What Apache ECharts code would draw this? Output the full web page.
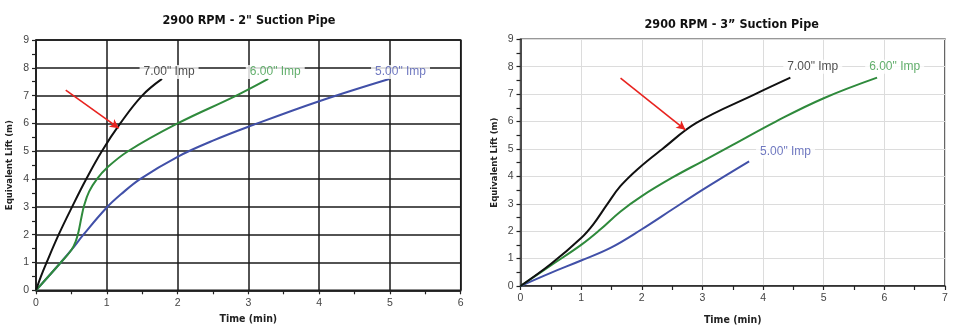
<!DOCTYPE html>
<html><head><meta charset="utf-8">
<script src="https://cdn.jsdelivr.net/npm/echarts@6/dist/echarts.min.js"></script>
<style>html,body{margin:0;padding:0;background:#fff}#c{width:956px;height:331px}</style>
</head><body><div id="c"></div>
<script>
// ---- Data (time in min, lift in m) ----
const titles = ['2900 RPM - 2" Suction Pipe', '2900 RPM - 3\u201D Suction Pipe'];
const xName = 'Time (min)';
const yName = 'Equivalent Lift (m)';
const seriesNames = ['7.00" Imp', '6.00" Imp', '5.00" Imp'];

// Left chart: 2" suction pipe
const left7 = [[0,0],[0.07,0.5],[0.15,1],[0.32,2],[0.51,3],[0.71,4],[0.93,5],[1.19,6],[1.5,7],[1.78,7.6]];
const left6 = [[0,0],[0.35,1],[0.5,1.45],[0.56,1.75],[0.6,2.1],[0.64,2.6],[0.68,3.05],[0.75,3.55],[0.86,4],[1.0,4.4],[1.3,5],[2.0,6],[2.83,7],[3.28,7.6]];
const left5 = [[0,0],[0.35,1],[0.5,1.45],[0.67,2],[0.99,2.95],[1.2,3.45],[1.47,4],[2.0,4.8],[2.5,5.38],[3.0,5.88],[4.0,6.8],[4.99,7.6]];

// Right chart: 3" suction pipe
const right7 = [[0,0],[0.5,0.8],[1,1.75],[1.2,2.25],[1.42,2.95],[1.65,3.65],[1.95,4.3],[2.34,5],[2.9,5.95],[3.87,7],[4.45,7.6]];
const right6 = [[0,0],[0.5,0.75],[1,1.5],[1.31,2.05],[1.65,2.72],[2,3.28],[2.5,3.95],[3,4.55],[3.5,5.15],[4.21,6],[5.0,6.85],[5.88,7.6]];
const right5 = [[0,0],[0.5,0.48],[1,0.93],[1.5,1.41],[2,2.07],[2.5,2.79],[3,3.51],[3.77,4.55]];

// Curve label anchors (data coords) [x, y]
const leftLabelPos = [[1.88,7.85],[3.38,7.85],[5.15,7.85]];
const rightLabelPos = [[4.82,8.0],[6.17,8.0],[4.37,4.9]];

// Annotation arrows [start, end]
const leftArrow = [[0.42,7.2],[1.17,5.83]];
const rightArrow = [[1.65,7.58],[2.72,5.70]];

// Axis ranges
const leftXMax = 6, rightXMax = 7, yMax = 9;

const colors = ['#111111', '#2f8a3c', '#4150a8'];
const labelColors = ['#222222', '#3a9a46', '#4b56b0'];

const chart = echarts.init(document.getElementById('c'), null, {renderer:'canvas'});

function xAxisCfg(grid, max, dark) {
  return {
    type:'value', gridIndex:grid, min:0, max:max, interval:1,
    name:xName, nameLocation:'middle', nameGap: dark ? 23 : 29,
    nameTextStyle:{fontFamily:'DejaVu Sans Condensed, Liberation Sans', fontWeight:'bold', fontSize:10.5, color:'#222'},
    axisLine:{show:true, onZero:false, lineStyle:{color:'#222', width:1.5}},
    axisTick:{show:true, length:4, lineStyle:{color:'#222', width:1.2}},
    minorTick:{show:true, splitNumber:2, length:4, lineStyle:{color:'#222', width:1.2}},
    axisLabel:{fontFamily:'Liberation Sans, Arial', fontSize:10.5, color:'#444', margin:7},
    splitLine:{show:true, lineStyle: dark ? {color:'#1a1a1a', width:1.5} : {color:'#dcdcdc', width:1}}
  };
}
function yAxisCfg(grid, dark) {
  return {
    type:'value', gridIndex:grid, min:0, max:yMax, interval:1,
    name:yName, nameLocation:'middle', nameGap: 21,
    nameTextStyle:{fontFamily:'DejaVu Sans Condensed, Liberation Sans', fontWeight:'bold', fontSize:9.5, color:'#222'},
    axisLine:{show:true, onZero:false, lineStyle:{color:'#222', width:1.5}},
    axisTick:{show:true, length:4, lineStyle:{color:'#222', width:1.2}},
    minorTick:{show:true, splitNumber:2, length:4, lineStyle:{color:'#222', width:1.2}},
    axisLabel:{fontFamily:'Liberation Sans, Arial', fontSize:10.5, color:'#444', margin:7},
    splitLine:{show:true, lineStyle: dark ? {color:'#1a1a1a', width:1.5} : {color:'#dcdcdc', width:1}}
  };
}

function lineSeries(name, data, ci, xi, arrow) {
  const s = {
    name:name, type:'line', xAxisIndex:xi, yAxisIndex:xi, data:data,
    smooth:0.4, showSymbol:false, symbol:'none', silent:true,
    lineStyle:{color:colors[ci], width:2}, z:3
  };
  if (arrow) {
    s.markLine = {
      silent:true, symbol:['none','arrow'], symbolSize:[7,9],
      lineStyle:{color:'#e8231f', width:1.6, type:'solid'},
      label:{show:false},
      data:[[{coord:arrow[0]},{coord:arrow[1]}]]
    };
  }
  return s;
}

function labelSeries(pos, xi) {
  return {
    type:'scatter', xAxisIndex:xi, yAxisIndex:xi, symbolSize:0, silent:true, z:5,
    data: pos.map((p,i)=>({value:p, name:seriesNames[i],
      label:{show:true, position:'inside', formatter:'{b}', color:labelColors[i],
        fontFamily:'Liberation Sans, Arial', fontSize:12, backgroundColor:'#fff', padding:[1,4]}}))
  };
}

const titleStyle = {fontFamily:'DejaVu Sans Condensed, Liberation Sans', fontWeight:'bold', fontSize:12.5, color:'#111'};

chart.setOption({
  animation:false,
  backgroundColor:'#fff',
  title:[
    {text:titles[0], left:157.5, top:9, textStyle:titleStyle},
    {text:titles[1], left:639.5, top:13, textStyle:titleStyle}
  ],
  grid:[
    {left:36, top:40, right:495.3, bottom:40.7, show:true, borderColor:'#1a1a1a', borderWidth:1.5},
    {left:520.5, top:39.3, right:11, bottom:42, show:true, borderColor:'#333', borderWidth:1.5}
  ],
  xAxis:[xAxisCfg(0, leftXMax, true), xAxisCfg(1, rightXMax, false)],
  yAxis:[yAxisCfg(0, true), yAxisCfg(1, false)],
  series:[
    lineSeries(seriesNames[2], left5, 2, 0),
    lineSeries(seriesNames[1], left6, 1, 0),
    lineSeries(seriesNames[0], left7, 0, 0, leftArrow),
    labelSeries(leftLabelPos, 0),
    lineSeries(seriesNames[2], right5, 2, 1),
    lineSeries(seriesNames[1], right6, 1, 1),
    lineSeries(seriesNames[0], right7, 0, 1, rightArrow),
    labelSeries(rightLabelPos, 1)
  ]
});
</script>
</body></html>
